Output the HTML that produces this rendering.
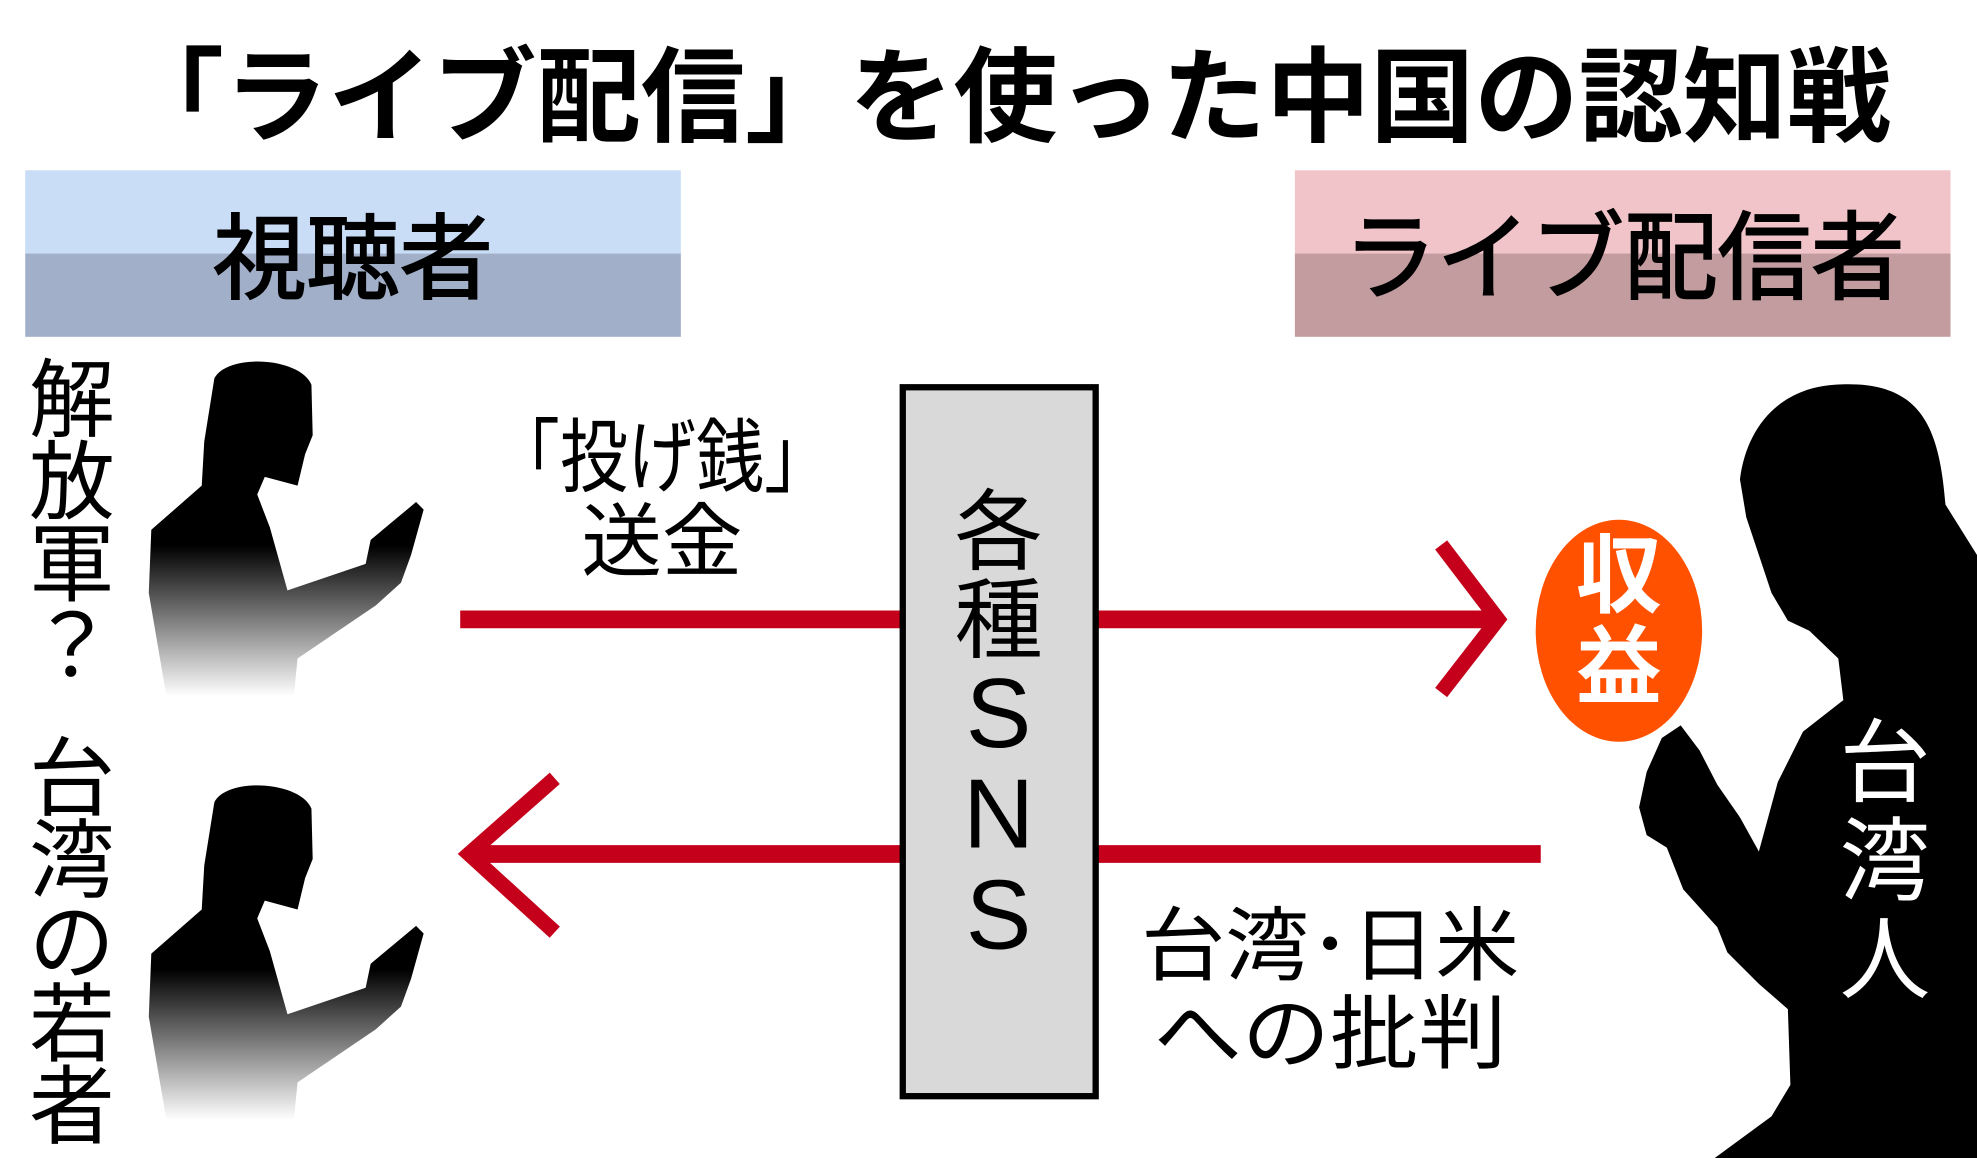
<!DOCTYPE html>
<html><head><meta charset="utf-8"><style>html,body{margin:0;padding:0;background:#fff}svg{display:block}</style></head>
<body>
<svg width="1977" height="1158" viewBox="0 0 1568 918" preserveAspectRatio="none" xmlns="http://www.w3.org/2000/svg" font-family="'Liberation Sans','Noto Sans CJK JP',sans-serif">
<defs>
<linearGradient id="fade" x1="0" y1="0" x2="0" y2="1"><stop offset="0.55" stop-color="#000"/><stop offset="1" stop-color="#fff"/></linearGradient>
</defs>
<rect width="1568" height="918" fill="#fff"/>
<text x="95" y="106" font-size="82" font-weight="bold" textLength="1405" lengthAdjust="spacingAndGlyphs">「ライブ配信」を使った中国の認知戦</text>
<rect x="20" y="135" width="520" height="66" fill="#c9ddf7"/>
<rect x="20" y="201" width="520" height="66" fill="#a2afc8"/>
<rect x="1027" y="135" width="520" height="66" fill="#f1c4c9"/>
<rect x="1027" y="201" width="520" height="66" fill="#c29c9f"/>
<g stroke="#000" stroke-width="1.5">
<text x="280" y="231" font-size="74" text-anchor="middle">視聴者</text>
<text x="1288" y="231" font-size="76" text-anchor="middle" textLength="445" lengthAdjust="spacingAndGlyphs">ライブ配信者</text>
</g>
<g font-size="68" text-anchor="middle">
<text x="57" y="341">解</text><text x="57" y="406">放</text><text x="57" y="471">軍</text><text x="57" y="536">？</text>
<text x="57" y="641">台</text><text x="57" y="706">湾</text><text x="57" y="771">の</text><text x="57" y="836">若</text><text x="57" y="901">者</text>
</g>
<g id="man">
<path fill="url(#fade)" d="M170,300 C180,280 238,283 247,305 L248,345 L242,360 L236,385 L210,378 L204,392 L214,418 L228,468 L290,447 L294,428 L318,408 L330,398 L336,404 L326,440 L318,462 L298,480 L236,522 L233,552 L132,552 L118,470 L120,420 L160,385 L162,350 Z"/>
</g>
<use href="#man" transform="translate(0,336)"/>
<g fill="none" stroke="#c4001a" stroke-width="14">
<line x1="365" y1="491" x2="1188" y2="491"/>
<polyline points="1143,432 1188,491 1143,549" stroke-width="12"/>
<line x1="372" y1="677" x2="1222" y2="677"/>
<polyline points="440,617 372,677 440,739" stroke-width="12"/>
</g>
<rect x="716" y="307" width="153" height="562" fill="#d9d9d9" stroke="#000" stroke-width="5"/>
<g font-size="70" text-anchor="middle">
<text x="792" y="446">各</text><text x="792" y="516">種</text>
<text x="792" y="592" font-size="78">S</text><text x="792" y="672" font-size="78">N</text><text x="792" y="752" font-size="78">S</text>
</g>
<g font-size="64" text-anchor="middle">
<text x="525" y="385" textLength="270" lengthAdjust="spacingAndGlyphs">「投げ銭」</text><text x="525" y="452">送金</text>
<text x="1055" y="772" textLength="300" lengthAdjust="spacingAndGlyphs">台湾･日米</text><text x="1055" y="842" textLength="280" lengthAdjust="spacingAndGlyphs">への批判</text>
</g>
<path fill="#000" d="M1455,305 C1525,300 1538,340 1543,400 L1568,440 L1568,918 L1360,918 L1405,885 L1420,860 L1418,800 L1395,780 L1370,755 L1362,735 L1335,705 L1322,672 L1306,662 L1300,640 L1306,612 L1318,585 L1333,575 L1348,595 L1362,622 L1380,648 L1395,675 L1410,620 L1430,580 L1462,555 L1458,522 L1435,500 L1418,492 L1405,470 L1395,440 L1385,410 L1380,380 C1385,340 1410,308 1455,305 Z"/>
<ellipse cx="1284" cy="500" rx="66" ry="88" fill="#ff5100"/>
<g font-size="68" font-weight="bold" fill="#fff" text-anchor="middle">
<text x="1284" y="480">収</text><text x="1284" y="552">益</text>
</g>
<g font-size="72" fill="#fff" text-anchor="middle">
<text x="1495" y="630">台</text><text x="1495" y="708">湾</text><text x="1495" y="786">人</text>
</g>
</svg>
</body></html>
